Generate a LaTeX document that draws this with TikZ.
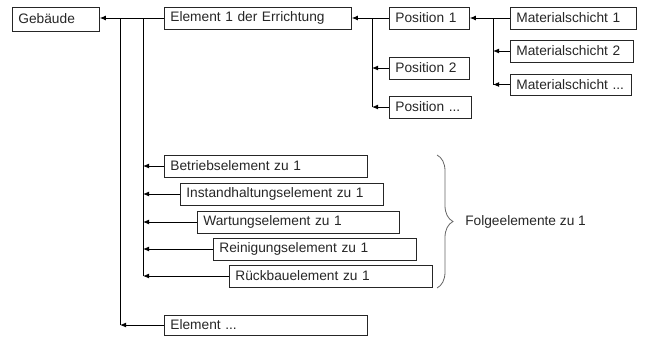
\documentclass[tikz,border=0pt]{standalone}
\usepackage{fontspec}
\setmainfont{Liberation Sans}
\usetikzlibrary{arrows.meta,decorations.pathreplacing}
\begin{document}
\begin{tikzpicture}[x=0.75pt,y=-0.75pt,
  box/.style={draw=black!85, line width=0.6pt, anchor=west, minimum height=16.5pt,
    inner xsep=4.5pt, inner ysep=0pt, align=left, text width=#1,
    font=\fontsize{10.3pt}{12pt}\selectfont, text=black!85},
  link/.style={draw=black, line width=0.6pt},
  arr/.style={link, -{Latex[length=4.5pt,width=3.6pt]}}]
\useasboundingbox (0,0) rectangle (645,336);

% boxes
\node[box=56.25pt, minimum height=18pt] (geb) at (12,19) {Gebäude};
\node[box=131.25pt] (el1) at (164,18) {Element 1 der Errichtung};
\node[box=51pt] (pos1) at (389,18) {Position 1};
\node[box=51pt] (pos2) at (389,68) {Position 2};
\node[box=52.5pt] (posx) at (389,107) {Position ...};
\node[box=85.5pt] (m1) at (510,18) {Materialschicht 1};
\node[box=83.25pt] (m2) at (510,51) {Materialschicht 2};
\node[box=82pt, minimum height=15.75pt] (mx) at (510,84.5) {Materialschicht\ ...};
\node[box=143.25pt] (betr) at (164,166) {Betriebselement zu 1};
\node[box=143.25pt] (inst) at (180,194) {Instandhaltungselement zu 1};
\node[box=142.5pt] (wart) at (197,222) {Wartungselement zu 1};
\node[box=143.25pt] (rein) at (213,249) {Reinigungselement zu 1};
\node[box=143.25pt] (rueck) at (229,276) {Rückbauelement zu 1};
\node[box=143.25pt, minimum height=15pt] (elx) at (164,325) {Element ...};

% trunk lines
\coordinate (tA) at (120,18);
\coordinate (tB) at (143,18);
\coordinate (tP) at (372,18);
\coordinate (tM) at (493,18);

\draw[arr] (el1.west) -- (el1.west -| geb.east);
\draw[link] (tA) -- (tA |- elx.west);
\draw[link] (tB) -- (tB |- rueck.west);
\draw[arr] (elx.west) -- (elx.west -| tA);
\foreach \n in {betr,inst,wart,rein,rueck}
  \draw[arr] (\n.west) -- (\n.west -| tB);

\draw[arr] (pos1.west) -- (pos1.west -| el1.east);
\draw[link] (tP) -- (tP |- posx.west);
\draw[arr] (pos2.west) -- (pos2.west -| tP);
\draw[arr] (posx.west) -- (posx.west -| tP);

\draw[arr] (m1.west) -- (m1.west -| pos1.east);
\draw[link] (tM) -- (tM |- mx.west);
\draw[arr] (m2.west) -- (m2.west -| tM);
\draw[arr] (mx.west) -- (mx.west -| tM);

% follow-up elements brace
\coordinate (bt) at (437,155);
\coordinate (bb) at (437,288);
\draw[black!60, line width=0.6pt, decorate, decoration={brace, amplitude=12pt}] (bt) -- (bb);
\node[anchor=west, font=\fontsize{10.3pt}{12pt}\selectfont, text=black!85, inner sep=0pt] (folg) at (465,222) {Folgeelemente zu 1};
\end{tikzpicture}
\end{document}
